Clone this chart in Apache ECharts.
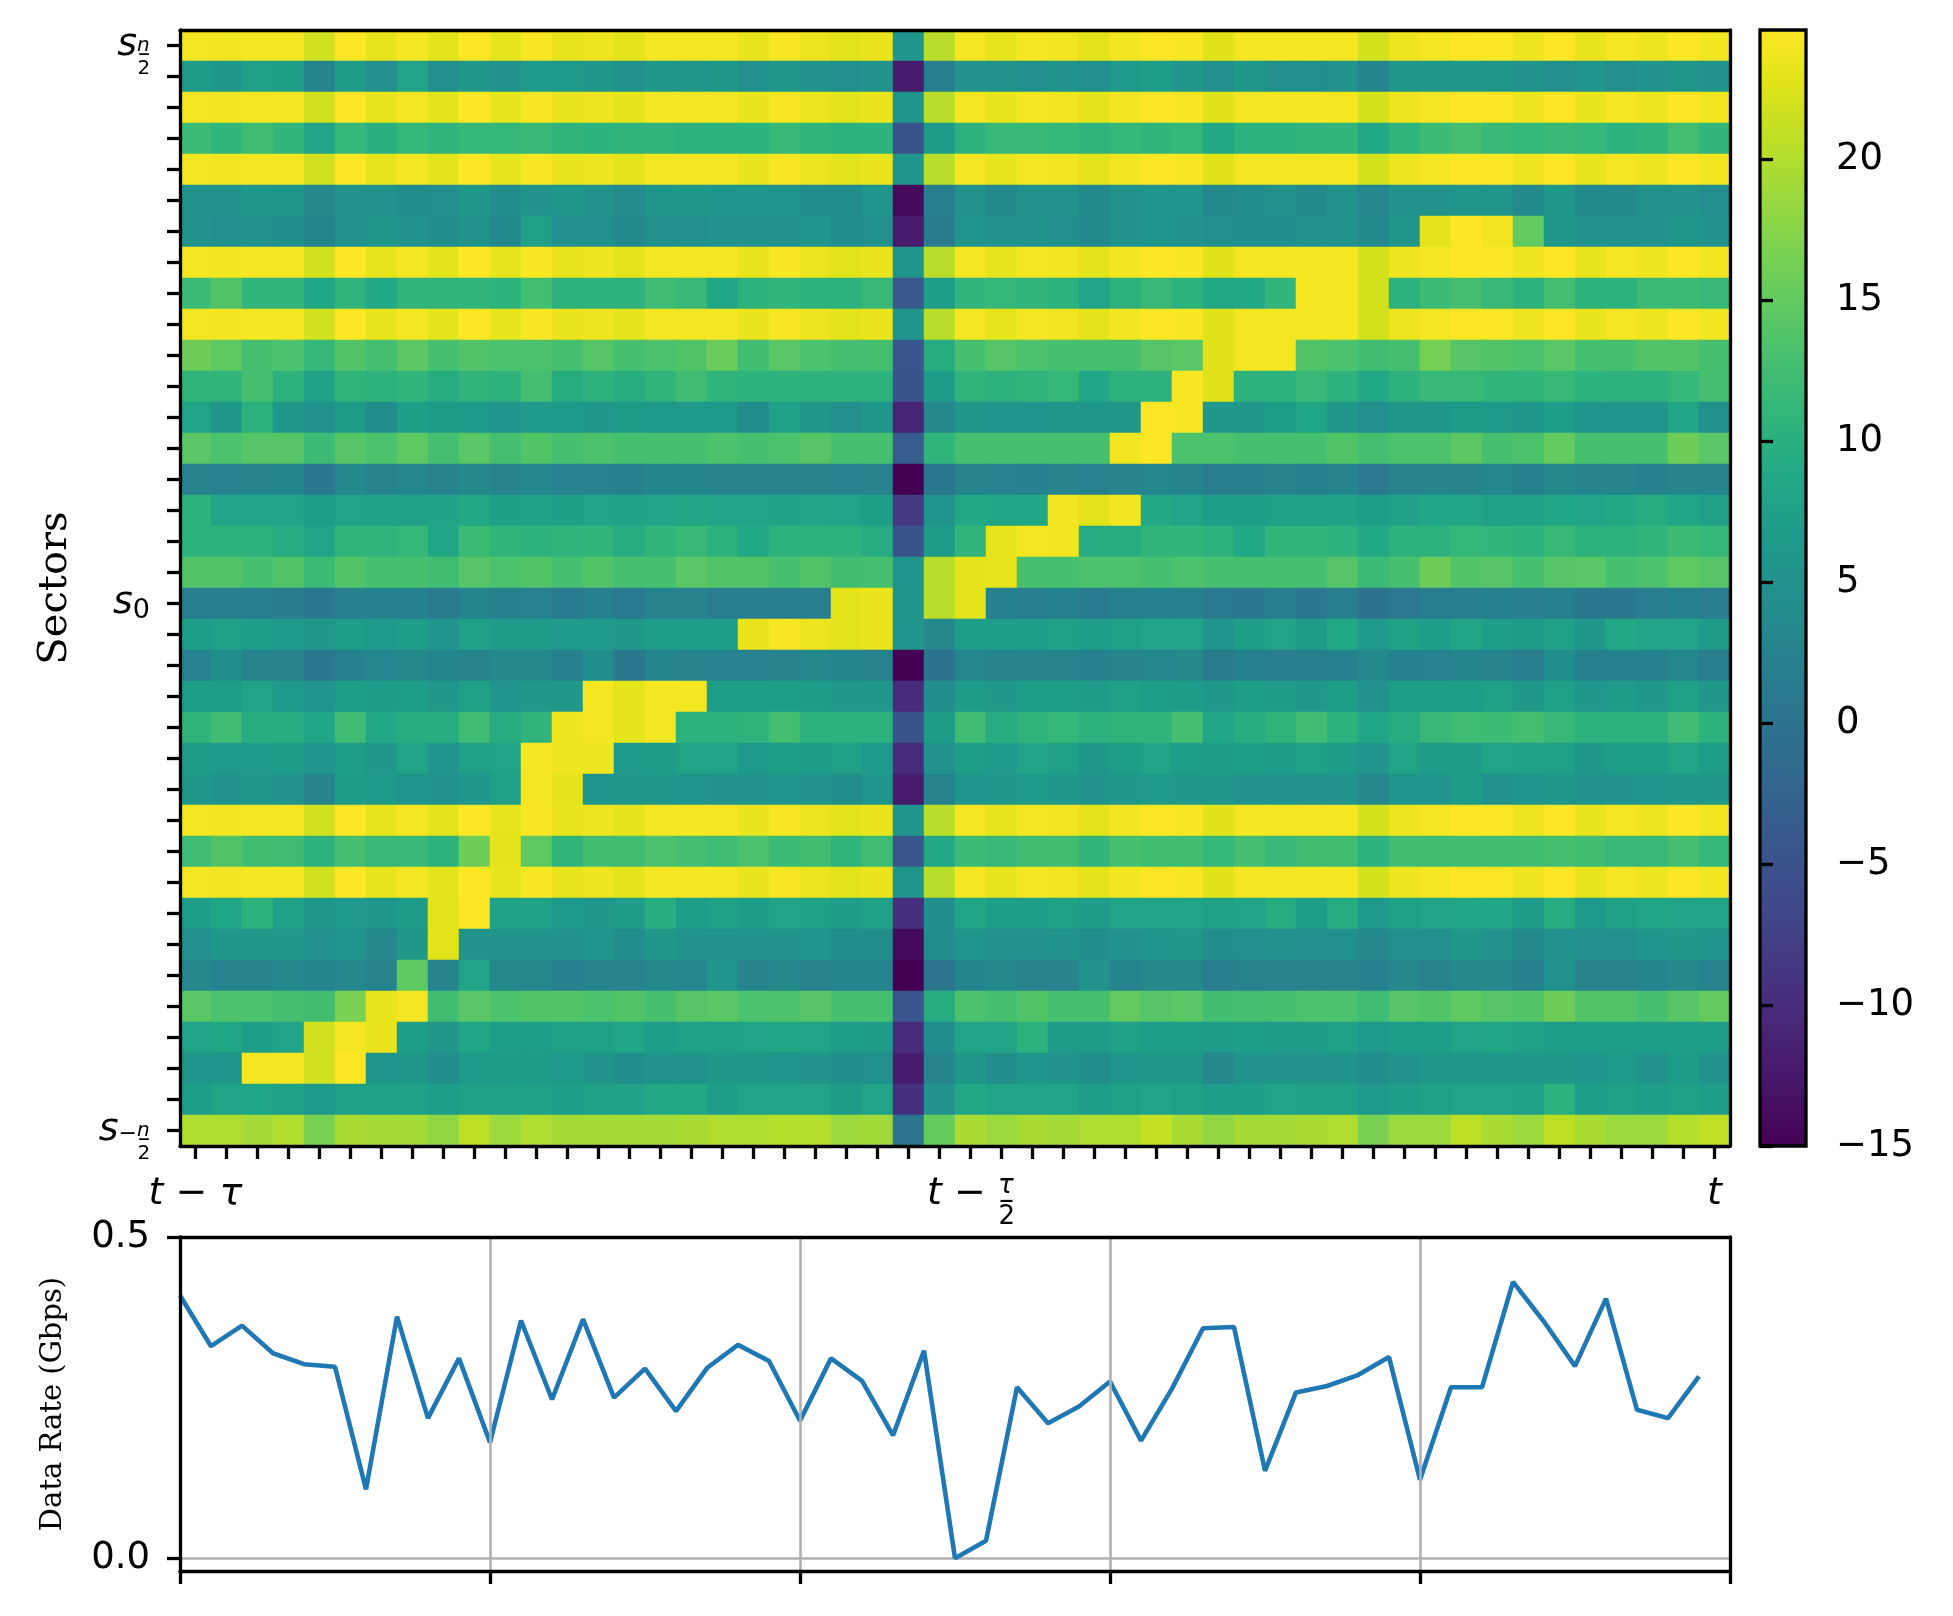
<!DOCTYPE html>
<html>
<head>
<meta charset="utf-8">
<title>Sector heatmap and data rate</title>
<script src="https://cdn.jsdelivr.net/npm/echarts@6/dist/echarts.min.js"></script>
<style>
  html, body { margin: 0; padding: 0; background: #fff; }
  #chart { width: 1953px; height: 1616px; }
</style>
</head>
<body>
<div id="chart"></div>
<script>
// sector values, one row per sector (top row = s_{n/2}), one column per time slot (t - tau .. t)
// the saturated rows all share the same column pattern
const peak = [24,23.9,24,24,21.8,24.6,23.2,24,22.9,24.6,23.1,24.4,23.3,23.7,23,24.1,24.1, 24.1,23.3,24.2,23.5,22.8,23.3,5.5,20.4,24,23.2,24,23.8,22.8,23.9,24.6,24.4,22.6, 24,24,24,24,22,23.7,24,24.6,24.5,23.7,24.6,23.3,24,23.7,24.6,23.9];

const heat = [
  peak,
  [6.8,6,7.5,7.2,3,6.6,4.5,8,4.6,5.8,5,6.2,6.2,5.7,4.8,6,5.7, 6,4.6,5.8,5,4.6,5,-12,2,5,4.8,4.6,5,4.6,6.2,7,5.8,4.6, 6,4.6,4.6,5,3,5.7,6,6,5.7,5,4.6,5.6,4.5,5,5.7,5.2],
  peak,
  [12,11,12.2,11,8,11.2,10.3,11.3,10.8,11.3,11.3,11.5,10.8,10.5,10.8,10.8,10.4, 10.4,10.5,11.5,11,10.4,10.5,-5,6.6,10.4,11.5,11.5,11.3,10.8,11.3,11,11.3,8.7, 10.5,10.5,10.8,11,8.7,10.8,12,12.8,11.5,11.2,11.5,11.2,10.5,11,12.6,11],
  peak,
  [5,5,5.8,5.7,3.5,5.2,5,4.4,4.6,6,4.4,5.3,5.7,5,3.7,5.7,6, 5.6,5.6,5.6,4.4,4.4,5.6,-14,2,5,3.6,5,5,3.6,5,5.6,5.6,3.6, 4.2,5,3.6,5,3.2,5,5,5.7,5.7,3.6,6,3.6,3.6,4.8,5.2,4.3],
  [5,4.6,5,4.4,3,4.8,5.7,5,4.4,5.2,3.6,7.4,4.6,4.6,3.6,4.6,4.6, 5,5,5,5.6,4.2,4.6,-12,1.5,5.6,5,5,4.6,3.6,5,5.6,5,4.6, 4.2,4.2,5,5,3.6,5.7,23,24.6,23.8,15,6,5,5,5,5.7,5],
  peak,
  [12,13.8,11,11,8.5,10.8,8.7,10.8,10.8,10.8,10.5,12.5,10.4,10.4,10.4,12.2,11.5, 8.5,10.4,11,10.4,10.4,11.5,-4,7,11,11.2,10.8,10.5,8,10.4,11.5,10.4,8.7, 8.7,11,24,24,22,10.4,12,12.8,11.5,10.4,12.6,10.4,10.4,12,12,11.5],
  peak,
  [15.8,14.8,12.8,13.3,11.2,13.8,12.8,14.6,12.9,13.7,13.3,13.3,12.9,14,12.9,13.3,13.8, 15.5,12.4,14.3,13.3,12.8,12.8,-4.3,9.5,12.9,14,13.3,12.9,12.9,12.9,14,14.3,22.6, 24,24,13.8,13.3,12.4,12.9,16.3,14,13.8,13.3,14.3,12.9,12.9,13.8,13.8,12.9],
  [10.8,10.8,12.8,10.4,7.5,10.8,10.4,11,9.5,10.8,10.4,12.8,9.5,10.4,9.6,10.8,12.2, 10.8,10.4,10.4,10.4,10.4,10.4,-5,6.6,10.8,10.4,10.8,11.2,8.5,10.4,10.4,24.4,22.6, 10.4,10.4,11.5,10.4,8.7,10.4,11.5,11.5,11,11,11.5,10.5,10.4,10.4,11.2,12.8],
  [8,6,10.4,6,4.8,6.6,4.4,7.2,6.6,6.2,5.6,6.2,6.2,5.8,6.6,6.2,6.2, 6.2,4.4,7.4,6,4.5,5.8,-11,3.5,6,5.6,5.6,6,5.8,6,24.6,24.4,6, 5.8,7,8.5,6,4.6,6,6,6.6,6.2,5.8,7,5.6,5.6,5.6,8.5,4.8],
  [14.3,13.3,14,14,12,14,13.3,14.8,12.8,14.3,12.8,13.8,12.9,13.3,12.9,12.9,12.9, 13.3,12.9,13.3,14,12.9,12.9,-3.5,10.8,12.9,12.9,12.9,12.9,12.9,23.9,24.6,13.3,13.3, 12.9,12.9,12.9,13.8,12.8,13.3,13.3,14.6,12.9,13.3,15,12.9,12.9,12.9,15.8,14.3],
  [2.8,2.5,2.8,3,0.8,3.5,2.6,3.2,2.6,3.4,2.6,3.2,2.5,2.5,2.3,3,3, 2.6,2.6,2.6,2.6,2.5,2.6,-15,0.6,2.8,2.5,2.3,2.8,2.5,2.8,3.2,2.8,1.8, 1.6,2.6,2.4,2.8,1,2.6,2.8,2.6,3.2,2.4,3.4,2.8,2.8,2.4,2.8,2.8],
  [10.4,8,8,8,7,8,7.7,7.6,7.7,8.7,7.2,7.4,7.2,8,7.7,8,8.3, 8,8,7.7,8.3,8,7.2,-8.5,5.5,8.7,8.5,8.5,23.8,22.8,23.9,8.7,8,7, 7,7.4,7.4,7.7,7,7.4,8.5,8.5,7.4,7.4,8.5,8,8.7,9.5,8.5,7.4],
  [10.4,10.4,10.4,9.5,8,10.8,10.8,11.2,8.5,12,10.8,10.4,10.8,11,9.5,11,11.5, 10.4,8.7,10.4,10.4,10.4,9.5,-5,6.6,11,23.2,24,23.8,9.5,9.5,11,11,10.4, 8.7,11,11,10.4,8.7,10.4,10.4,11.2,11,10.4,11.5,10.4,10.4,11,12,11.2],
  [13.8,13.8,12.9,13.8,12,13.8,12.9,12.9,12.4,14,13.3,13.8,12.9,13.8,12.9,12.9,14.3, 13.8,13.8,12.9,13.8,12.4,12.8,5.5,20.4,23,23.2,12.9,12.9,13.3,13.3,12.9,13.3,12.9, 12.9,12.9,12.9,14,12,12.9,15.8,13.8,14,12.9,14,14.3,12.9,13.3,14.8,14],
  [2,2,1.8,1.5,0.8,2.3,2.3,2.3,1.5,3,2.3,2.5,1.2,2.3,1.2,2.6,2.6, 1.6,1.6,1.8,1.6,22.8,23.3,5.5,20.4,23,2.3,2,2.4,1.2,2.4,2.3,2.3,1.2, 0.8,1.8,0.8,2,0.2,1,1.6,1.8,2.3,1.6,2.3,0.6,0.9,1.8,2.4,1.6],
  [7,7.4,7,6.2,6,7,6.2,7,5.6,7.6,6.6,6.6,6.2,6.2,6,7,7, 7,23.3,24.2,23.5,22.8,23.3,5.5,3.5,7,7,7,7.4,7,7.4,8,8,5.6, 7,8,6.6,8.7,6.2,7.7,7,8.5,7,6.6,7.4,5.8,8.7,8,8,6.6],
  [2.5,4.4,2.6,2.6,0.9,2.4,3.2,3.5,3,2.6,3.5,3.5,2.4,4.4,0.9,3,2.6, 2.5,2.5,2.8,3.5,3,2.6,-15,0,3.2,2.6,2.8,2.6,2.4,2.8,3.2,3.5,1.5, 2.4,1.8,2,2.4,3.5,2.4,2.5,3,2.6,1.8,4.4,2.3,2.3,2.3,3.2,1.8],
  [7,7,8,6.2,5.6,7,6.6,7,6,7.4,5.6,6,6,24,23,24.1,24.1, 7,7,7,6.6,6,6,-10,4.4,6.6,6,7,7,6.6,7.4,7,6.6,6, 7,6.6,6,7,5,7,7,7,7.4,6,7.4,5.8,6.6,6,7.4,6],
  [10.8,12.2,9.5,9.5,8.5,12.2,8.7,9.5,9.5,12.2,9.5,10.8,23.7,24,23,24.1,10.4, 10.4,10.8,12.6,10.4,10.4,10.4,-5,6.6,12.2,9.5,10.8,11.2,10.4,10.8,10.8,12.8,8.5, 9.5,10.8,12.2,10.4,8.5,9.5,11.5,12.2,12,12.6,11.5,10.4,10.4,10.4,12.2,10.4],
  [6.6,6.2,6.2,6.6,5.6,7,6,8,5.6,7.4,8,24,23.7,23.7,6.2,6.6,8, 8,6.2,7,6.6,7.4,6.2,-10,5,7,6.2,8,7.4,6,7,8,7,6.6, 7,6.6,7.4,6.6,5.5,8,6.6,6.6,8,7.4,7.4,6,7,7,8,7],
  [5.8,5.2,5.8,5,2.8,6.6,6.2,5.6,5.2,5.8,7.4,24,23,5.6,5.8,5.8,5.6, 5,5,5.6,5,4.4,5.6,-12,2.6,5.6,5.8,6.2,5.8,5.2,5.8,6.2,5.8,5.8, 5.2,5.2,5,5,3.5,5.6,5.6,6.6,5,5.6,5.8,5.2,5.2,5.6,5.8,6],
  peak,
  [12.2,13.8,12.4,12.2,10.4,12.8,11.5,11.5,10.4,15.8,23,14.8,10.8,12.4,12.4,13.3,12.8, 12.2,13.3,12,12.4,10.8,12.2,-4.5,8.7,12,11.5,12.4,12.4,11,12.9,12.4,12.4,11.2, 12.8,11.5,12.4,12.4,10.4,12.4,12.4,12.4,12.4,12.4,12.8,12.4,11.5,11.5,12.8,11.2],
  peak,
  [7,8.5,10.4,7.4,6,6.2,6,6.6,22.8,24.6,7.7,7.7,6.2,6,6.6,9.8,7, 7.4,6.6,8,7.4,6.6,7.4,-9.5,4.2,8.5,7,7,7.4,6.6,8,8,8,7.4, 8,9.5,7,9.5,6.2,7.4,8,8.5,8.5,6.6,9.5,6.2,7.4,8.5,8,8],
  [4.6,5.8,5.8,6,4.6,5.6,3.5,6,22.8,5.2,5.2,5.2,5.2,5.6,4.4,6,5.2, 5.2,5.2,5.2,5.6,4.4,4.4,-14,4.2,5.6,5,5,5.2,4.4,5,5.6,5.8,4.4, 4.6,5,4.6,4.6,3.4,4.6,4.6,6,5,3.5,5,4.6,4.6,5.6,6,5.6],
  [3.5,2.8,2.8,3.5,3,3.5,2.8,14.8,2.8,8,3.4,3.5,2.3,2.8,2.8,3.5,3.2, 5.5,2.8,3.5,2.6,3,3,-15,0.5,3,3.5,2.6,2.6,5,3,3.5,3.5,1.8, 2.6,2.6,2.6,2.6,2.3,3.5,2.6,3.5,3.5,2.3,5,2.6,2.6,3,3.5,2.8],
  [14.3,13.3,13.3,12.9,12.4,16.7,23.3,24,12.4,14.3,13.3,13.8,13.8,13.3,13.8,12.9,14, 14.3,13.3,13.3,14,12.9,12.9,-4.3,9.5,13.3,12.9,13.8,12.9,12.9,15,14,14.3,12.4, 12.8,12.9,13.3,13.3,12.2,14,13.8,14.8,14,13.8,15.8,13.8,13.8,12.9,14,15],
  [8,8.5,7,8,21.8,24,23.3,7,6,8.5,7,7,7.4,7.4,8.5,7,7.4, 7.4,8,8.5,8,7,6.6,-10,4.2,8,8,10.4,6.6,6.6,7.4,7,7,6.6, 7,6.6,6.6,7.4,6.2,7,7,8,8.5,7.4,7,7,7,7,7,7],
  [5.6,5.5,24,24,21.8,24.6,5.6,6,4.4,6.2,6.6,6.6,6.2,5.2,4.4,5.2,5.2, 6,6,5.6,5,4.4,4.6,-12,2.8,6,4.4,5.6,5.2,4.4,5.6,5.8,5.8,3.5, 5.2,5.2,5.2,5.2,4.2,5.2,5.8,5.8,5.8,5.8,5.8,5.6,6.2,5.2,6.6,5],
  [7,8,8.5,7.4,6.2,7.4,7.4,7.4,7,7.4,7.4,7.4,7,7.4,7.4,8.7,8.7, 7,8,8,8,6.6,8,-9.5,5,8.7,8,8,8,7,7.4,8,7.4,7, 7,8,7.4,7.4,6.2,7,7.4,8,8,7.4,10.4,7,7.4,7,7.4,7],
  [19.8,19.8,19.2,19.9,16.7,19.5,19.2,19.2,18,20.6,18.7,19.8,19.2,19.2,19.2,19.2,19.5, 19.8,19.8,20.2,20.2,18.7,19,0.5,15.3,19.5,18.7,19.5,19.2,19.8,19.8,21.1,19.5,18, 19.2,19.2,19.5,19.8,16.7,18.7,18.7,20.6,19.5,18.7,20.6,19.5,18.7,18.7,20.2,20.8]
];

// data rate per time slot (Gbps)
const rate = [0.409,0.330,0.362,0.319,0.302,0.298,0.107,0.376,0.218,0.311,
              0.180,0.370,0.247,0.372,0.250,0.295,0.229,0.296,0.332,0.307,
              0.214,0.311,0.276,0.191,0.323,0.000,0.027,0.266,0.210,0.236,
              0.275,0.183,0.264,0.358,0.360,0.136,0.258,0.268,0.285,0.313,
              0.122,0.266,0.266,0.430,0.368,0.299,0.404,0.231,0.218,0.283];

const colorMin = -15;
const colorMax = 24.6;
const colorTicks = [-15, -10, -5, 0, 5, 10, 15, 20];
const rateTicks = [0, 0.5];

// labelled ticks (rich text), everything else stays blank
const sectorLabels = {
  0: '{s|s}{num|n}{den|2}{bar|–}',
  18: '{s|s}{sub|0}',
  35: '{s|s}{mi|−}{num|n}{den|2}{bar|–}'
};
const timeLabels = {
  0: '{t|t}{m| − }{t|τ}',
  25: '{t|t}{m| − }{tn|τ}{td|2}{tb|–}',
  49: '{t|t}'
};

const viridis = ['#440154','#471365','#482475','#463480','#414487','#3b528b','#355f8d',
  '#2f6c8e','#2a788e','#25848e','#21918c','#1e9c89','#22a884','#2fb47c','#44bf70',
  '#5ec962','#7ad151','#9bd93c','#bddf26','#dfe318','#fde725'];

const sans = 'DejaVu Sans';
const serif = 'DejaVu Serif';
const black = '#000';

const rowIds = heat.map((_, i) => i);
const colIds = heat[0].map((_, i) => i);

const cells = [];
heat.forEach((row, r) => row.forEach((v, c) => cells.push([c, r, v])));

const yRich = {
  s: { fontFamily: sans, fontStyle: 'italic', fontSize: 38, align: 'left', color: black },
  sub: { fontFamily: sans, fontSize: 27, padding: [14, 0, 0, 0], align: 'left', color: black },
  mi: { fontFamily: sans, fontSize: 22, padding: [8, 0, 0, 0], align: 'left', color: black },
  num: { fontFamily: sans, fontStyle: 'italic', fontSize: 20, lineHeight: 24, width: 0.5, align: 'left', color: black },
  den: { fontFamily: sans, fontSize: 20, lineHeight: 24, width: 0.5, padding: [46, 0, 0, 0], align: 'left', color: black },
  bar: { fontFamily: sans, fontSize: 24, lineHeight: 28, padding: [18, 0, 0, 0], align: 'left', color: black }
};
const xRich = {
  t: { fontFamily: sans, fontStyle: 'italic', fontSize: 38, height: 80, align: 'left', color: black },
  m: { fontFamily: sans, fontSize: 38, height: 80, align: 'left', color: black },
  tn: { fontFamily: sans, fontStyle: 'italic', fontSize: 26, lineHeight: 30, width: 0.5, padding: [0, 0, 16, 0], align: 'left', color: black },
  td: { fontFamily: sans, fontSize: 26, lineHeight: 30, width: 0.5, padding: [46, 0, 0, 0], align: 'left', color: black },
  tb: { fontFamily: sans, fontSize: 30, lineHeight: 34, padding: [14, 0, 0, 0], align: 'left', color: black }
};

const spine = { show: true, onZero: false, lineStyle: { color: black, width: 3.3 } };
const tick = { show: true, length: 13, lineStyle: { color: black, width: 3.3 } };
const tickText = { color: black, fontFamily: sans, fontSize: 37 };
const gridGray = { color: '#b0b0b0', width: 2.6 };

// plain axis used only to draw a frame edge
function edge(gridIndex, position) {
  return {
    type: 'value', gridIndex, position, min: 0, max: 1, z: 5,
    axisLine: spine, axisTick: { show: false }, axisLabel: { show: false }, splitLine: { show: false }
  };
}

const chart = echarts.init(document.getElementById('chart'));

chart.setOption({
  animation: false,
  backgroundColor: '#fff',
  grid: [
    { left: 180, top: 30, width: 1550, height: 1116 },
    { left: 1760, top: 30, width: 46, height: 1116 },
    { left: 180, top: 1237, width: 1550, height: 334 }
  ],
  visualMap: {
    type: 'continuous', show: false, seriesIndex: 0,
    min: colorMin, max: colorMax,
    inRange: { color: viridis }
  },
  xAxis: [
    {
      type: 'category', gridIndex: 0, data: colIds, position: 'bottom', z: 5,
      axisLine: spine,
      axisTick: Object.assign({ alignWithLabel: true, interval: 0 }, tick),
      axisLabel: {
        interval: (i) => i in timeLabels,
        formatter: (v, i) => timeLabels[i] || '',
        rich: xRich, margin: 8
      },
      splitLine: { show: false }
    },
    edge(0, 'top'),
    {
      type: 'value', gridIndex: 1, min: 0, max: 1, show: false
    },
    {
      type: 'value', gridIndex: 2, min: 0, max: 50, interval: 10, position: 'bottom', z: 5,
      axisLine: spine, axisTick: tick, axisLabel: { show: false },
      splitLine: { show: true, lineStyle: gridGray }
    },
    edge(2, 'top')
  ],
  yAxis: [
    {
      type: 'category', gridIndex: 0, data: rowIds, inverse: true, position: 'left', z: 5,
      name: 'Sectors', nameLocation: 'middle', nameRotate: 90, nameGap: 104,
      nameTextStyle: { fontFamily: serif, fontSize: 40, color: black },
      axisLine: spine,
      axisTick: Object.assign({ alignWithLabel: true, interval: 0 }, tick),
      axisLabel: {
        interval: (i) => i in sectorLabels,
        formatter: (v, i) => sectorLabels[i] || '',
        rich: yRich, margin: 30
      },
      splitLine: { show: false }
    },
    edge(0, 'right'),
    {
      type: 'value', gridIndex: 1, position: 'right', min: colorMin, max: colorMax, z: 5,
      axisLine: { show: false },
      axisTick: Object.assign({ customValues: colorTicks }, tick),
      axisLabel: Object.assign({
        customValues: colorTicks, margin: 30,
        formatter: (v) => (v < 0 ? '\u2212' + Math.abs(v) : String(v))
      }, tickText),
      splitLine: { show: false }
    },
    {
      type: 'value', gridIndex: 2, position: 'left', min: -0.02, max: 0.5, z: 5,
      name: 'Data Rate (Gbps)', nameLocation: 'middle', nameRotate: 90, nameGap: 112,
      nameTextStyle: { fontFamily: serif, fontSize: 29, color: black },
      axisLine: spine,
      axisTick: Object.assign({ customValues: rateTicks }, tick),
      axisLabel: Object.assign({
        customValues: rateTicks, margin: 30,
        formatter: (v) => v.toFixed(1)
      }, tickText),
      splitLine: { show: false }
    },
    edge(2, 'right')
  ],
  series: [
    {
      type: 'heatmap', xAxisIndex: 0, yAxisIndex: 0,
      data: cells, progressive: 0,
      itemStyle: { borderWidth: 0 },
      emphasis: { disabled: true }
    },
    {
      // colour bar, drawn on its own value axis
      type: 'custom', xAxisIndex: 2, yAxisIndex: 2, silent: true, clip: false,
      data: [[0, colorMin, colorMax]],
      renderItem: (params, api) => {
        const lo = api.coord([0, api.value(1)]);
        const hi = api.coord([1, api.value(2)]);
        return {
          type: 'rect',
          shape: { x: lo[0], y: hi[1], width: hi[0] - lo[0], height: lo[1] - hi[1] },
          style: {
            fill: new echarts.graphic.LinearGradient(0, 1, 0, 0,
              viridis.map((c, i) => ({ offset: i / (viridis.length - 1), color: c }))),
            stroke: black,
            lineWidth: 3.3
          }
        };
      }
    },
    {
      type: 'line', xAxisIndex: 3, yAxisIndex: 3,
      data: rate.map((v, i) => [i, v]),
      symbol: 'none',
      lineStyle: { color: '#1f77b4', width: 4.6 },
      itemStyle: { color: '#1f77b4' },
      markLine: {
        silent: true, symbol: ['none', 'none'], z: 1,
        label: { show: false },
        lineStyle: Object.assign({ type: 'solid' }, gridGray),
        data: [{ yAxis: 0 }]
      }
    }
  ]
});
</script>
</body>
</html>
